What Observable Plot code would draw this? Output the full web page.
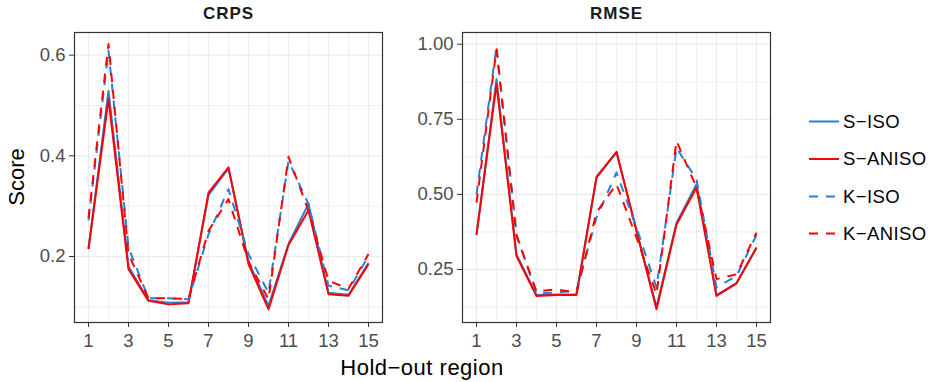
<!DOCTYPE html>
<html>
<head>
<meta charset="utf-8">
<script src="https://cdn.jsdelivr.net/npm/d3@7"></script>
<script src="https://cdn.jsdelivr.net/npm/@observablehq/plot@0.6"></script>
<style>
  html, body { margin: 0; padding: 0; background: #fff; }
  #chart { position: relative; width: 929px; height: 382px; overflow: hidden; font-family: "Liberation Sans", Arial, sans-serif; }
  #chart > .panel { position: absolute; top: 0; }
  #overlay { position: absolute; left: 0; top: 0; pointer-events: none; }
</style>
</head>
<body>
<div id="chart"></div>
<script>
// Hold-out regions and model names
const regions = [1, 2, 3, 4, 5, 6, 7, 8, 9, 10, 11, 12, 13, 14, 15];
const models = ["S\u2212ISO", "S\u2212ANISO", "K\u2212ISO", "K\u2212ANISO"];

// CRPS per hold-out region
const crpsSIso   = [0.215, 0.529, 0.180, 0.113, 0.108, 0.109, 0.322, 0.375, 0.190, 0.102, 0.225, 0.305, 0.128, 0.124, 0.187];
const crpsSAniso = [0.215, 0.513, 0.175, 0.112, 0.105, 0.107, 0.327, 0.377, 0.185, 0.095, 0.223, 0.292, 0.125, 0.122, 0.185];
const crpsKIso   = [0.272, 0.609, 0.218, 0.117, 0.117, 0.115, 0.244, 0.334, 0.205, 0.128, 0.390, 0.304, 0.142, 0.133, 0.201];
const crpsKAniso = [0.277, 0.622, 0.205, 0.117, 0.117, 0.116, 0.251, 0.314, 0.190, 0.115, 0.398, 0.291, 0.152, 0.136, 0.205];

// RMSE per hold-out region
const rmseSIso   = [0.365, 0.883, 0.300, 0.165, 0.167, 0.168, 0.555, 0.640, 0.380, 0.125, 0.405, 0.534, 0.165, 0.205, 0.322];
const rmseSAniso = [0.365, 0.867, 0.295, 0.162, 0.165, 0.165, 0.558, 0.642, 0.378, 0.118, 0.400, 0.523, 0.162, 0.204, 0.323];
const rmseKIso   = [0.500, 0.994, 0.367, 0.170, 0.173, 0.181, 0.423, 0.573, 0.390, 0.190, 0.655, 0.550, 0.190, 0.229, 0.365];
const rmseKAniso = [0.473, 0.983, 0.362, 0.177, 0.184, 0.173, 0.440, 0.534, 0.356, 0.168, 0.678, 0.523, 0.218, 0.234, 0.373];

// Axis ticks
const xTicks = [1, 3, 5, 7, 9, 11, 13, 15];
const xMinor = [2, 4, 6, 8, 10, 12, 14];
const crpsTicks = [0.2, 0.4, 0.6];
const crpsMinor = [0.1, 0.3, 0.5];
const rmseTicks = [0.25, 0.50, 0.75, 1.00];
const rmseMinor = [0.125, 0.375, 0.625, 0.875];

const blue = "#2b7fd2";
const red = "#ff0000";
const seriesStyle = [
  {stroke: blue, dash: null},
  {stroke: red, dash: null},
  {stroke: blue, dash: "9,8"},
  {stroke: red, dash: "9,8"}
];

const toRows = (values) => regions.map((r, i) => ({region: r, value: values[i]}));

function panel(seriesValues, yDomain, yTicks, yMinor, tickFormat) {
  const grid = "#ebebeb";
  const marks = [
    Plot.gridX({ticks: xMinor, stroke: grid, strokeOpacity: 1, strokeWidth: 0.8}),
    Plot.gridX({ticks: xTicks, stroke: grid, strokeOpacity: 1, strokeWidth: 1.3}),
    Plot.gridY({ticks: yMinor, stroke: grid, strokeOpacity: 1, strokeWidth: 0.8}),
    Plot.gridY({ticks: yTicks, stroke: grid, strokeOpacity: 1, strokeWidth: 1.3})
  ];
  seriesValues.forEach((vals, k) => {
    marks.push(Plot.lineY(toRows(vals), {
      x: "region", y: "value",
      stroke: seriesStyle[k].stroke,
      strokeWidth: 2,
      strokeDasharray: seriesStyle[k].dash,
      strokeLinejoin: "round",
      strokeLinecap: "butt"
    }));
  });
  marks.push(
    Plot.frame({stroke: "#333333", strokeWidth: 1.2}),
    Plot.axisX({ticks: xTicks, tickSize: 5, tickPadding: 6, stroke: "#333333", fill: "#4d4d4d", fontSize: 18.5, label: null}),
    Plot.axisY({ticks: yTicks, tickSize: 5, tickPadding: 4, stroke: "#333333", fill: "#4d4d4d", fontSize: 18.5, label: null, tickFormat})
  );
  return Plot.plot({
    width: 390,
    height: 350,
    marginLeft: 74,
    marginRight: 8,
    marginTop: 32,
    marginBottom: 28,
    style: {fontFamily: "'Liberation Sans', Arial, sans-serif", fontSize: "18px", background: "transparent", overflow: "visible"},
    x: {domain: [0.3, 15.7]},
    y: {domain: yDomain},
    marks
  });
}

const chart = document.getElementById("chart");

const crpsPlot = panel([crpsSIso, crpsSAniso, crpsKIso, crpsKAniso], [0.069, 0.645], crpsTicks, crpsMinor, d3.format(".1f"));
crpsPlot.classList.add("panel");
crpsPlot.style.left = "0px";
chart.appendChild(crpsPlot);

const rmsePlot = panel([rmseSIso, rmseSAniso, rmseKIso, rmseKAniso], [0.0736, 1.039], rmseTicks, rmseMinor, d3.format(".2f"));
rmsePlot.classList.add("panel");
rmsePlot.style.left = "388px";
chart.appendChild(rmsePlot);

// Titles, axis labels and legend
const svg = d3.select(chart).append("svg")
  .attr("id", "overlay")
  .attr("width", 929).attr("height", 382)
  .style("font-family", "'Liberation Sans', Arial, sans-serif");

svg.append("text").attr("x", 228.5).attr("y", 18.5).attr("text-anchor", "middle")
  .attr("font-size", 17).attr("font-weight", "bold").attr("letter-spacing", 1).attr("fill", "#1a1a1a").text("CRPS");
svg.append("text").attr("x", 616.5).attr("y", 18.5).attr("text-anchor", "middle")
  .attr("font-size", 17).attr("font-weight", "bold").attr("letter-spacing", 1).attr("fill", "#1a1a1a").text("RMSE");
svg.append("text").attr("transform", "translate(24,177) rotate(-90)").attr("text-anchor", "middle")
  .attr("font-size", 22).attr("fill", "#000").text("Score");
svg.append("text").attr("x", 422).attr("y", 375).attr("text-anchor", "middle")
  .attr("font-size", 22).attr("letter-spacing", 0.5).attr("fill", "#000").text("Hold\u2212out region");

const legendY = [121.5, 159, 196.5, 233.5];
models.forEach((name, k) => {
  const g = svg.append("g");
  g.append("line").attr("x1", 809).attr("x2", 839).attr("y1", legendY[k]).attr("y2", legendY[k])
    .attr("stroke", seriesStyle[k].stroke).attr("stroke-width", 2)
    .attr("stroke-dasharray", seriesStyle[k].dash || null);
  g.append("text").attr("x", 843).attr("y", legendY[k]).attr("dy", "0.35em")
    .attr("font-size", 18.5).attr("letter-spacing", 0.4).attr("fill", "#000").text(name);
});
</script>
</body>
</html>
